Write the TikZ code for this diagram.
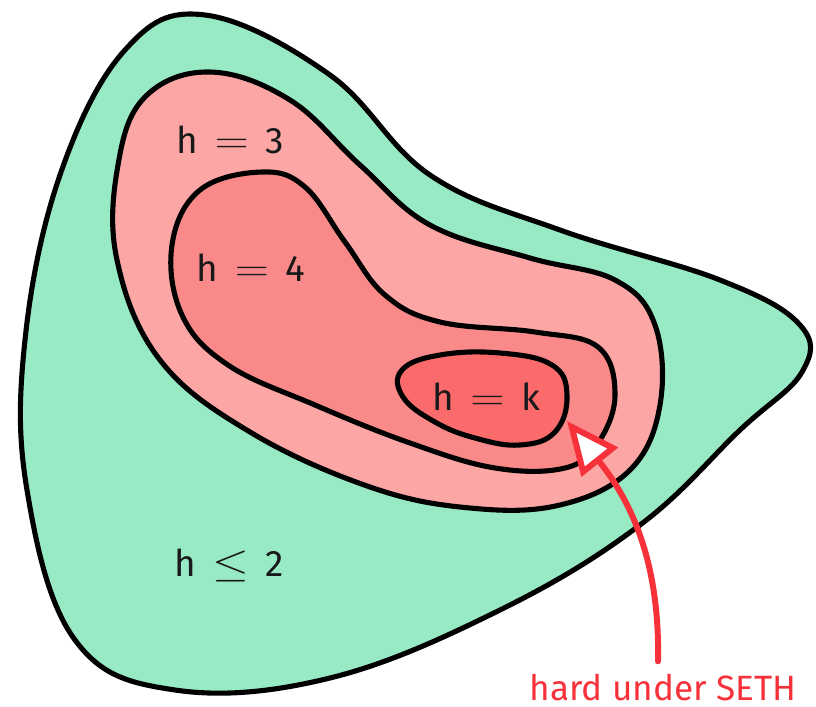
\documentclass[tikz,border=0pt]{standalone}
\usepackage{fontspec}
\setmainfont{Fira Sans}
\usepackage{xcolor}
\usetikzlibrary{arrows.meta}
\definecolor{regionlow}{HTML}{98EAC5}
\definecolor{regionthree}{HTML}{FCA6A6}
\definecolor{regionfour}{HTML}{FA8A8A}
\definecolor{regionk}{HTML}{FC6B6B}
\definecolor{sethred}{HTML}{F7313A}
\newcommand{\hrel}[1]{\hspace{0.45em}\scalebox{1.3}[1.1]{$#1$}\hspace{0.45em}}

\begin{document}
\begin{tikzpicture}[x=0.02cm,y=-0.02cm,
  region/.style={draw=black, line width=2.9pt},
  hlabel/.style={font=\fontsize{21}{24}\selectfont, text=black!90},
  note/.style={font=\fontsize{20}{24}\selectfont, text=sethred, inner sep=0pt},
  pointer/.style={draw=sethred, line width=3.4pt, line cap=round,
    -{Triangle[open, fill=white, length=30pt, width=26pt, line width=3.4pt]}}]
\useasboundingbox (0,0) rectangle (816,707);
% regions, outermost first
\draw[region, fill=regionlow] plot[smooth cycle, tension=0.65] coordinates {
  (205,15) (330,75) (430,175) (560,230) (720,280) (800,325) (802,372)
  (740,430) (640,525) (500,610) (330,678) (175,690) (75,640) (27,490)
  (25,340) (60,175) (125,50)};
\draw[region, fill=regionthree] plot[smooth cycle, tension=0.65] coordinates {
  (210,72) (290,100) (360,165) (430,225) (530,258) (615,280) (655,325)
  (660,405) (630,470) (560,505) (470,508) (370,487) (250,432) (160,360)
  (117,260) (118,165) (145,97)};
\draw[region, fill=regionfour] plot[smooth cycle, tension=0.65] coordinates {
  (262,172) (305,187) (345,242) (385,295) (440,322) (535,332) (598,347)
  (615,395) (598,443) (565,468) (495,468) (410,443) (315,405) (228,365)
  (182,315) (172,245) (200,190)};
\draw[region, fill=regionk] plot[smooth cycle, tension=0.7] coordinates {
  (402,370) (440,355) (500,353) (552,365) (567,395) (555,432) (520,445)
  (475,438) (435,422) (403,397)};
% labels
\node[hlabel] (h3) at (230,140) {h\hrel{=}3};
\node[hlabel] (h4) at (251,268) {h\hrel{=}4};
\node[hlabel] (hk) at (486,397) {h\hrel{=}k};
\node[hlabel] (h2) at (229,565) {h\hrel{\leq}2};
\node[note, anchor=base] (seth) at (663,700) {hard under SETH};
\coordinate (tip) at (567,421);
\draw[pointer] (seth.north) ++(-5,-12) .. controls (660,560) and (630,500) .. (tip);
\end{tikzpicture}
\end{document}
